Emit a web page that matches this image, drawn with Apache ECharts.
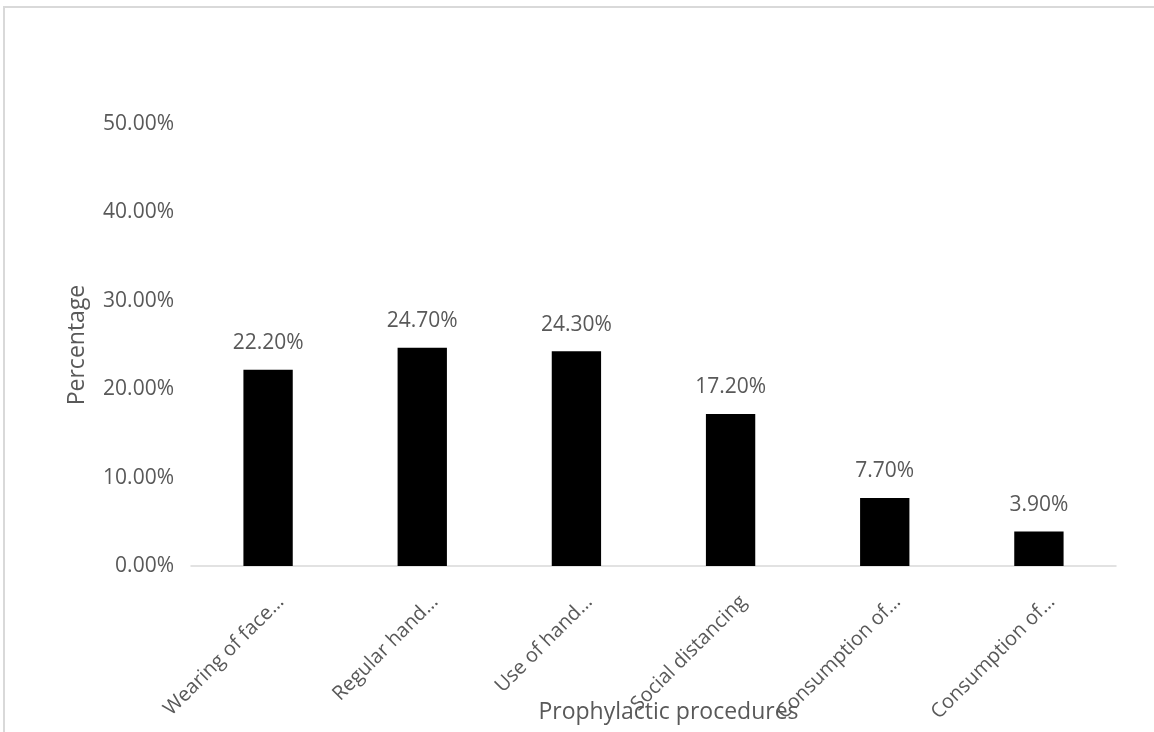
<!DOCTYPE html>
<html>
<head>
<meta charset="utf-8">
<style>
  html, body { margin: 0; padding: 0; background: #fff; }
  #chart { width: 1154px; height: 732px; }
</style>
<script src="https://cdn.jsdelivr.net/npm/echarts@6/dist/echarts.min.js"></script>
</head>
<body>
<div id="chart"></div>
<script>
  // 数据
  var categories = ['Wearing of face…', 'Regular hand…', 'Use of hand…', 'Social distancing', 'Consumption of…', 'Consumption of…'];
  var percentages = [22.2, 24.7, 24.3, 17.2, 7.7, 3.9];
  var yTicks = [0, 10, 20, 30, 40, 50];

  var font = '"Open Sans", "Noto Sans", sans-serif';
  var textColor = '#595959';

  var myChart = echarts.init(document.getElementById('chart'));
  myChart.setOption({
    backgroundColor: '#fff',
    animation: false,
    textStyle: { fontFamily: font },
    graphic: [{
      type: 'rect',
      shape: { x: 4, y: 7, width: 1200, height: 800 },
      style: { fill: 'none', stroke: '#d9d9d9', lineWidth: 2 },
      silent: true
    }],
    grid: {
      left: 191,
      right: 38,
      top: 124,
      bottom: 166,
      outerBoundsMode: 'none',
      containLabel: false
    },
    xAxis: {
      type: 'category',
      data: categories,
      name: 'Prophylactic procedures',
      nameLocation: 'middle',
      nameGap: 135,
      nameMoveOverlap: false,
      nameTextStyle: {
        color: textColor,
        fontSize: 23,
        fontFamily: font,
        padding: [0, 0, 0, 30]
      },
      axisLine: { lineStyle: { color: '#d9d9d9', width: 1.5 } },
      axisTick: { show: false },
      axisLabel: {
        interval: 0,
        rotate: 45,
        color: textColor,
        fontSize: 20,
        fontFamily: font,
        margin: 20,
        align: 'right',
        verticalAlign: 'top',
        padding: [8, 0, 0, 0]
      }
    },
    yAxis: {
      type: 'value',
      min: yTicks[0],
      max: yTicks[yTicks.length - 1],
      interval: 10,
      name: 'Percentage',
      nameLocation: 'middle',
      nameGap: 102,
      nameTextStyle: {
        color: textColor,
        fontSize: 23,
        fontFamily: font
      },
      axisLine: { show: false },
      axisTick: { show: false },
      splitLine: { show: false },
      axisLabel: {
        color: textColor,
        fontSize: 21,
        fontFamily: font,
        margin: 17,
        formatter: function (v) { return v.toFixed(2) + '%'; }
      }
    },
    series: [{
      type: 'bar',
      data: percentages,
      barWidth: '32%',
      itemStyle: { color: '#000' },
      label: {
        show: true,
        position: 'top',
        distance: 16,
        color: textColor,
        fontSize: 21,
        fontFamily: font,
        formatter: function (p) { return p.value.toFixed(2) + '%'; }
      }
    }]
  });
</script>
</body>
</html>
